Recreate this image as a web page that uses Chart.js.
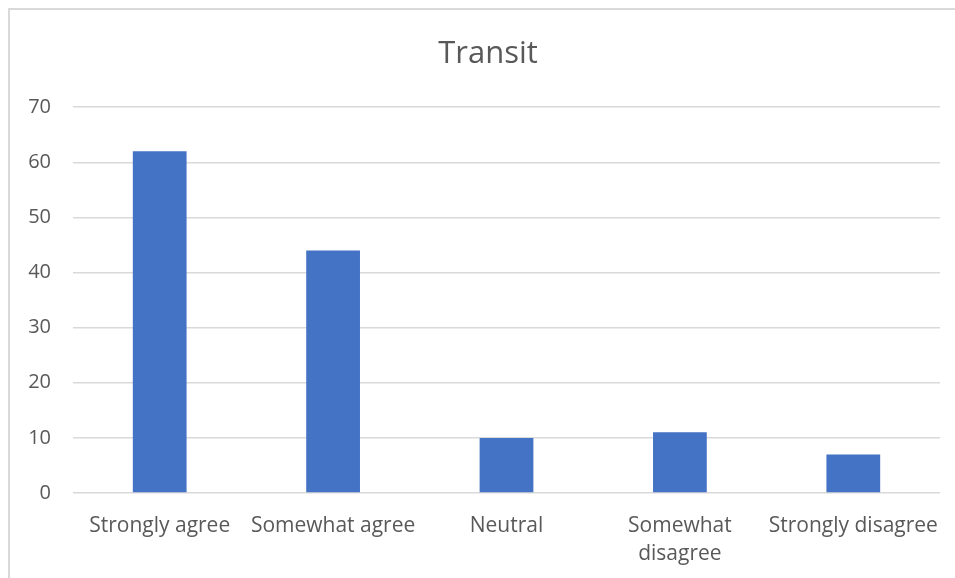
<!DOCTYPE html>
<html>
<head>
<meta charset="utf-8">
<script src="https://cdn.jsdelivr.net/npm/chart.js@4"></script>
<style>
  html, body { margin: 0; padding: 0; background: #fff; overflow: hidden; }
  #frame {
    position: absolute; left: 8px; top: 8px; width: 1000px; height: 620px;
    border-left: 2px solid #d9d9d9; border-top: 2px solid #d9d9d9;
  }
  #wrap { position: absolute; left: 0; top: 0; width: 955px; height: 578px; }
</style>
</head>
<body>
<div id="frame"></div>
<div id="wrap"><canvas id="myChart"></canvas></div>
<script>
const categories = ['Strongly agree', 'Somewhat agree', 'Neutral', ['Somewhat', 'disagree'], 'Strongly disagree'];
const responses = [62, 44, 10, 11, 7];
const yTicks = [0, 10, 20, 30, 40, 50, 60, 70];

const textGray = '#595959';
const gridGray = '#d9d9d9';

// title sits centred on the whole frame, a bit right of the plot centre
const shiftTitle = {
    id: 'shiftTitle',
    afterLayout(chart) {
        if (chart.titleBlock) chart.titleBlock.right += 36;
    }
};

const ctx = document.getElementById('myChart').getContext('2d');

const myChart = new Chart(ctx, {
    type: 'bar',
    data: {
        labels: categories,
        datasets: [{
            data: responses,
            backgroundColor: '#4472c4',
            borderWidth: 0,
            barPercentage: 0.62,
            categoryPercentage: 0.5
        }]
    },
    plugins: [shiftTitle],
    options: {
        responsive: true,
        maintainAspectRatio: false,
        animation: false,
        layout: { padding: { left: 0, right: 15, top: 32, bottom: 0 } },
        plugins: {
            legend: { display: false },
            tooltip: { enabled: false },
            title: {
                display: true,
                text: 'Transit',
                color: textGray,
                font: { family: 'Open Sans', size: 31, weight: 'normal', lineHeight: 1.2 },
                padding: { top: 4, bottom: 34 }
            }
        },
        scales: {
            x: {
                grid: { display: false },
                border: { display: false },
                ticks: {
                    color: textGray,
                    font: { family: 'Open Sans', size: 21, lineHeight: 1.33 },
                    padding: 11,
                    maxRotation: 0,
                    autoSkip: false
                },
                afterFit: (axis) => {
                    axis.height = 85; // room for two-line labels below the plot
                    axis.paddingLeft = 0;
                    axis.paddingRight = 0;
                }
            },
            y: {
                min: 0,
                max: 70,
                afterBuildTicks: (axis) => { axis.ticks = yTicks.map(v => ({ value: v })); },
                grid: { color: gridGray, lineWidth: 1.5, drawTicks: false },
                border: { display: false },
                ticks: {
                    color: textGray,
                    font: { family: 'Open Sans', size: 20 },
                    padding: 22
                },
                afterFit: (axis) => {
                    axis.width = 73;
                    axis.paddingTop = 0;
                    axis.paddingBottom = 0;
                }
            }
        }
    }
});
</script>
</body>
</html>
